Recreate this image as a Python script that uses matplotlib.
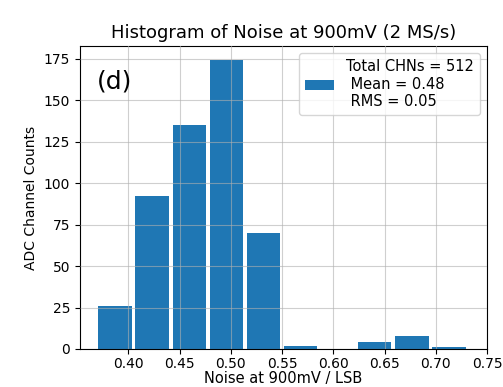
import matplotlib
matplotlib.use("Agg")
import matplotlib.pyplot as plt
import numpy as np

bin_edges = [0.369, 0.4052, 0.4414, 0.4776, 0.5138, 0.55, 0.5862, 0.6224, 0.6586, 0.6948, 0.731]
counts = [26, 92, 135, 174, 70, 2, 0, 4, 8, 1]
label = "Total CHNs = 512\n Mean = 0.48\n RMS = 0.05"

fig = plt.figure(figsize=(5.03, 3.87), dpi=100)
ax = fig.add_axes([80/503, 1-349/387, 407/503, 303/387])
centers = [(bin_edges[i] + bin_edges[i+1]) / 2 for i in range(len(counts))]
ax.hist(centers, bins=bin_edges, weights=counts, rwidth=0.9, color="#1f77b4", label=label)
ax.grid(True, color="#b0b0b0", alpha=0.6, linewidth=0.8)
ax.set_axisbelow(False)
ax.set_xticks([0.40, 0.45, 0.50, 0.55, 0.60, 0.65, 0.70, 0.75])
ax.tick_params(labelsize=10)
ax.tick_params(axis="x", pad=2.5)
ax.set_xlabel("Noise at 900mV / LSB", fontsize=10.5, labelpad=0)
ax.set_ylabel("ADC Channel Counts", fontsize=10)
ax.set_title("Histogram of Noise at 900mV (2 MS/s)", fontsize=13)
ax.text(0.042, 0.86, "(d)", transform=ax.transAxes, fontsize=18)
ax.legend(loc="upper right", fontsize=10.5)
fig.savefig("out.png", dpi=100)
